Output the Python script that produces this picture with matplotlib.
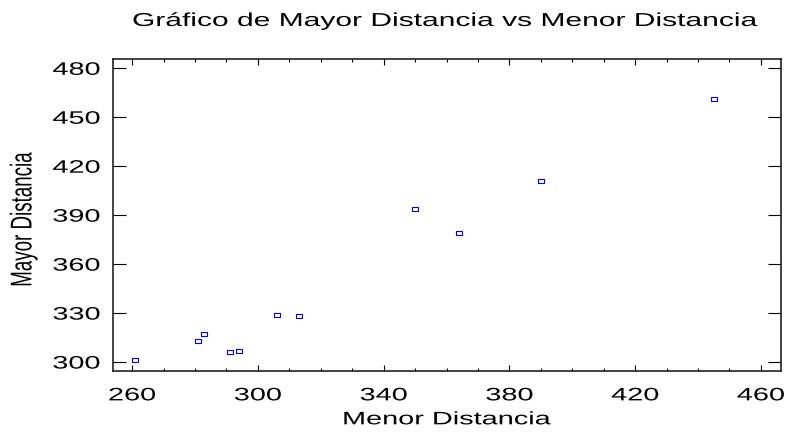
import numpy as np
import matplotlib
matplotlib.use('Agg')
import matplotlib.pyplot as plt
import matplotlib.patheffects as pe
from matplotlib.transforms import Affine2D

# data
menor = [261, 281, 283, 291, 294, 306, 313, 350, 364, 390, 445]
mayor = [301, 313, 317, 306, 307, 329, 328, 394, 379, 411, 461]
xticks = [260, 300, 340, 380, 420, 460]
yticks = [300, 330, 360, 390, 420, 450, 480]

plt.rcParams['font.family'] = ['Liberation Sans', 'DejaVu Sans']


class Stretch(pe.AbstractPathEffect):
   """the reference text is drawn wide: stretch glyphs along display x"""
   def __init__(self, sx=1.6, anchor='center'):
      super().__init__()
      self.sx = sx
      self.anchor = anchor

   def draw_path(self, renderer, gc, tpath, affine, rgbFace=None):
      bb = tpath.get_extents(affine)
      x0 = {'left': bb.x0, 'right': bb.x1}.get(self.anchor, (bb.x0 + bb.x1) / 2)
      st = Affine2D().translate(-x0, 0).scale(self.sx, 1).translate(x0, 0)
      renderer.draw_path(gc, tpath, affine + st, rgbFace)


fig = plt.figure(figsize=(7.87, 4.32), dpi=100)
ax = fig.add_axes([0.1432, 0.1419, 0.992 - 0.1432, 0.8627 - 0.1419])

rect = [(-0.8, -0.5), (0.8, -0.5), (0.8, 0.5), (-0.8, 0.5), (-0.8, -0.5)]
ax.plot(menor, mayor, ls='none', marker=rect, ms=4.4, mfc='none',
        mec='#0000ff', mew=0.8)

ax.set_xlim(253.8, 466.3)
ax.set_ylim(294.7, 485.5)
ax.set_xticks(xticks)
ax.set_xticks(np.arange(260, 461, 10), minor=True)
ax.set_yticks(yticks)

ax.tick_params(axis='x', which='major', direction='in', length=4.3, width=0.8,
               top=True, labelsize=13, pad=12)
ax.tick_params(axis='x', which='minor', direction='in', length=2.2, width=0.8,
               top=True)
ax.tick_params(axis='y', direction='in', length=9.5, width=0.8, right=True,
               labelsize=13, pad=9)
for s in ax.spines.values():
   s.set_linewidth(1.2)
   s.set_color('#222222')

for lbl in ax.get_xticklabels():
   lbl.set_path_effects([Stretch()])
for lbl in ax.get_yticklabels():
   lbl.set_path_effects([Stretch(anchor='right')])

ax.set_xlabel('Menor Distancia', fontsize=13, labelpad=5,
              path_effects=[Stretch()])
ax.set_ylabel('Mayor Distancia', fontsize=13.5, path_effects=[Stretch()])
ax.yaxis.set_label_coords(-0.12, 0.485)
fig.text(0.565, 1 - 26 / 432, 'Gráfico de Mayor Distancia vs Menor Distancia',
         ha='center', va='baseline', fontsize=13.5, path_effects=[Stretch()])

fig.savefig('out.png', dpi=100)
